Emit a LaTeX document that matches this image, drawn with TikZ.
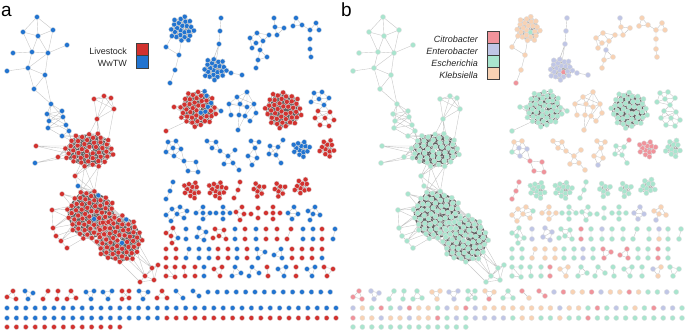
\documentclass[tikz,border=0pt]{standalone}
\usepackage{fontspec}
\setmainfont{Liberation Sans}
\pgfdeclarelayer{bg}
\pgfsetlayers{bg,main}
\definecolor{ca-r}{HTML}{D2322F}
\definecolor{ca-b}{HTML}{2274D0}
\definecolor{cb-c}{HTML}{F0939B}
\definecolor{cb-e}{HTML}{C0C6E6}
\definecolor{cb-s}{HTML}{A9E5CE}
\definecolor{cb-k}{HTML}{F8D2B4}
\tikzset{
  gnode/.style={circle,inner sep=0pt,minimum size=5.1pt,draw=black!12,line width=0.35pt},
  gedge/.style={draw=black!22,line width=0.4pt},
  denseedge/.style={draw=black!62,line width=0.3pt},
  midedge/.style={draw=black!35,line width=0.3pt},
  legbox/.style={draw=black!75,line width=0.7pt,minimum width=12pt,minimum height=12.1pt,inner sep=0pt},
  legtext/.style={font=\fontsize{9}{10}\selectfont,text=black!85,inner sep=0pt},
  plabel/.style={font=\fontsize{19}{19}\selectfont,inner sep=0pt,anchor=base west},
}
\newif\ifpanelb
\def\pfx{a}
\def\offx{0}
\def\asp{1}
\gdef\eall{}
\def\splitcode#1#2\relax{\def\codeA{#1}\def\codeB{#2}}
\newcommand\nd[4]{%
  \expandafter\splitcode#4\relax
  \ifpanelb\edef\thecol{cb-\codeB}\else\edef\thecol{ca-\codeA}\fi
  \pgfmathsetmacro\ndx{#2+\offx}\pgfmathsetmacro\ndy{#3}%
  \node[gnode,fill=\thecol] (\pfx-#1) at (\ndx,\ndy) {};}
\newcommand\ed[2]{\xdef\eall{\eall (\pfx-#1.center) -- (\pfx-#2.center)}}
\newcommand\E[1]{\foreach \ua/\ub in {#1}{\ed{\ua}{\ub}}}
\newcommand\pr[7]{\nd{#1a}{#2}{#3}{#6}\nd{#1b}{#4}{#5}{#7}\ed{#1a}{#1b}}
\newcommand\sun[9]{%
  \foreach \i in {1,...,#5}{%
    \pgfmathsetmacro\fr{\i*0.381966-floor(\i*0.381966)}%
    \pgfmathsetmacro\rr{#4*sqrt((\i-0.5)/#5)}%
    \pgfmathsetmacro\px{#2+\rr*cos(360*\fr)}%
    \pgfmathsetmacro\py{#3+\asp*\rr*sin(360*\fr)}%
    \pgfmathtruncatemacro\hh{mod(\i*61+17,100)}%
    \ifnum\hh<#9\relax\nd{#1-\i}{\px}{\py}{#8}\else\nd{#1-\i}{\px}{\py}{#7}\fi}%
  \gdef\spath{}%
  \foreach \i in {1,...,#5}{\foreach \k in {#6}{%
      \pgfmathtruncatemacro\jj{mod(\i+\k-1,#5)+1}%
      \xdef\spath{\spath (\pfx-#1-\i.center) -- (\pfx-#1-\jj.center)}}}%
  \begin{pgfonlayer}{bg}%
  \ifnum#5>30\relax\draw[denseedge] \spath;\else\draw[midedge] \spath;\fi
  \end{pgfonlayer}}
\newcommand\best[3]{%
  \pgfmathtruncatemacro\lo{max(1,#2-12)}%
  \gdef\bestd{1000}\gdef\besti{#2}%
  \foreach \ii in {\lo,...,#2}{%
    \pgfmathsetmacro\dd{abs(mod(360*(\ii*0.381966-floor(\ii*0.381966))-(#3)+540,360)-180)}%
    \ifdim\dd pt<\bestd pt\relax\xdef\bestd{\dd}\xdef\besti{\ii}\fi}}
\newcommand\lk[4]{\best{#2}{#3}{#4}\ed{#1}{#2-\besti}}
\newcommand\lkb[4]{\best{#2}{#3}{#4}\ed{#1}{#2-\besti}%
  \pgfmathtruncatemacro\bj{\besti-8}\ifnum\bj>0 \ed{#1}{#2-\bj}\fi
  \pgfmathtruncatemacro\bj{\besti-13}\ifnum\bj>0 \ed{#1}{#2-\bj}\fi}
\newcommand\cl[6]{\best{#1}{#2}{#3}\edef\ba{\besti}\best{#4}{#5}{#6}\edef\bb{\besti}\ed{#1-\ba}{#4-\bb}}
\newcommand\row[4]{\foreach \code [count=\kk] in {#4}{%
    \pgfmathsetmacro\rx{#2+9.4*(\kk-1)}\nd{#1-\kk}{\rx}{#3}{\code}}}

\newcommand\network{%
% ---------- left graph ----------
\nd{t1}{37}{17}{bs}\nd{t2}{23}{32}{bs}\nd{t3}{38}{36}{bs}\nd{t4}{53}{30}{bs}
\nd{t5}{67}{45}{bs}\nd{t6}{13}{53}{bs}\nd{t7}{32}{52}{bs}\nd{t8}{48}{53}{bs}
\nd{t9}{7}{71}{bs}\nd{t10}{28}{68}{bs}\nd{t11}{45}{75}{bs}\nd{t12}{34}{89}{bs}\nd{t13}{51}{104}{bs}
\E{t1/t2,t1/t3,t1/t4,t2/t3,t3/t4,t2/t7,t3/t8,t4/t8,t5/t8,t6/t7,t7/t8,t3/t7,t7/t10,t8/t10,t9/t10,t10/t11,t8/t11,t11/t12,t10/t12,t12/t13,t11/t13}
\nd{u1}{47}{114}{bs}\nd{u2}{62}{111}{bs}\nd{u3}{63}{117}{bs}\nd{u4}{49}{121}{bs}
\nd{u5}{48}{128}{bs}\nd{u6}{66}{125}{bs}\nd{u7}{69}{131}{bs}\nd{u8}{62}{136}{bs}
\E{t13/u1,t13/u2,t13/u3,t13/u4,u1/u2,u1/u3,u1/u4,u2/u3,u3/u4,u4/u5,u2/u6,u3/u6,u5/u6,u6/u7,u4/u7,u7/u8,u5/u8,u1/u6,u2/u4,u3/u5}
\nd{p1}{94}{99}{rs}\nd{p2}{104}{96}{rs}\nd{p3}{111}{98}{rs}\nd{p4}{114}{109}{rs}\nd{p5}{97}{119}{rs}
\E{p1/p2,p1/p3,p2/p3,p2/p4,p3/p4,p1/p5,p2/p5,p4/p5,p1/p4,p3/p5}
\def\asp{0.68}\sun{M}{89}{150}{26}{45}{1,2,3,5,8,13}{rs}{bs}{0}\def\asp{1}
\nd{mo1}{36}{146}{rs}\nd{mo2}{35}{163}{bs}\nd{mo3}{58}{157}{rs}\nd{mo4}{75}{176}{rs}\nd{mo5}{78}{186}{bs}
\lkb{mo1}{M}{45}{185}\ed{mo2}{mo3}\lk{mo2}{M}{45}{165}\lkb{mo3}{M}{45}{170}
\lkb{mo4}{M}{45}{100}\ed{mo4}{mo5}
\lkb{p5}{M}{45}{300}\lk{p4}{M}{45}{320}\lkb{u8}{M}{45}{230}\lk{u7}{M}{45}{215}\lk{u6}{M}{45}{220}
\sun{L1}{91}{215}{25}{62}{1,2,3,5,8,13,21}{rs}{bs}{3}
\sun{L2}{119}{239}{24}{58}{1,2,3,5,8,13,21}{rs}{bs}{3}
\foreach \q in {1,3,...,55}{\ed{L1-\q}{L2-\q}}
\lkb{mo5}{L1}{62}{270}\lk{mo4}{L1}{62}{265}
\cl{M}{45}{80}{L1}{62}{260}\cl{M}{45}{100}{L1}{62}{280}\cl{M}{45}{90}{L1}{62}{250}
\cl{M}{45}{110}{L1}{62}{290}\cl{M}{45}{70}{L1}{62}{275}
\nd{bo1}{62}{194}{rs}\nd{bo2}{52}{210}{rs}\nd{bo3}{53}{228}{rs}\nd{bo4}{56}{236}{rs}\nd{bo5}{61}{241}{rs}\nd{bo6}{67}{248}{rs}
\lkb{bo1}{L1}{62}{215}\lkb{bo2}{L1}{62}{185}\lkb{bo3}{L1}{62}{160}\lk{bo4}{L1}{62}{150}\lkb{bo5}{L1}{62}{140}\lk{bo6}{L1}{62}{120}
\E{bo3/bo4,bo4/bo5,bo5/bo6,bo2/bo3}
\nd{q1}{152}{268}{rs}\nd{q2}{158}{265}{rs}\nd{q3}{145}{276}{rs}\nd{q4}{154}{280}{rs}\nd{q5}{140}{282}{rs}
\E{q1/q2,q1/q3,q2/q4,q3/q4,q1/q4,q3/q5,q4/q5,q2/q3}
\lkb{q1}{L2}{58}{40}\lkb{q3}{L2}{58}{55}\lk{q5}{L2}{58}{75}
% ---------- right: top row ----------
\sun{C2}{182}{29}{13}{24}{1,2,3,5,8,13}{bk}{bs}{5}
\nd{c2a}{166}{47}{bk}\nd{c2b}{179}{55}{bk}\nd{c2c}{175}{70}{bk}\nd{c2d}{170}{83}{bc}
\lk{c2a}{C2}{24}{140}\ed{c2a}{c2b}\lk{c2b}{C2}{24}{95}\E{c2b/c2c,c2c/c2d}
\nd{c3a}{221}{18}{be}\nd{c3b}{220}{31}{be}\nd{c3c}{219}{44}{be}
\sun{C3}{215}{69}{12}{22}{1,2,3,5,8,13}{be}{bc}{5}
\nd{c3d}{231}{73}{be}\nd{c3e}{242}{75}{be}
\E{c3a/c3b,c3b/c3c,c3d/c3e}\lkb{c3c}{C3}{22}{275}\lk{c3d}{C3}{22}{0}
\nd{d1}{274}{18}{be}\nd{d2}{275}{27}{bk}\nd{d3}{284}{28}{bk}\nd{d4}{277}{35}{bk}
\nd{d5}{269}{35}{bk}\nd{d6}{257}{33}{bk}\nd{d7}{250}{38}{bk}\nd{d8}{256}{43}{bk}
\nd{d9}{263}{41}{bk}\nd{d10}{252}{48}{bk}\nd{d11}{260}{50}{be}\nd{d12}{267}{57}{bk}
\nd{d13}{258}{60}{bk}\nd{d14}{256}{68}{bk}
\E{d1/d2,d2/d3,d2/d4,d3/d4,d4/d5,d5/d9,d6/d7,d6/d9,d7/d8,d8/d9,d7/d10,d8/d10,d9/d11,d11/d12,d11/d13,d13/d14,d12/d13,d5/d6}
\nd{e1}{296}{18}{bk}\nd{e2}{293}{26}{bk}\nd{e3}{302}{25}{bk}\nd{e4}{316}{23}{bk}
\nd{e5}{310}{30}{bk}\nd{e6}{319}{30}{bk}\nd{e7}{310}{39}{bk}\nd{e8}{310}{49}{bk}\nd{e9}{311}{57}{bk}
\E{e1/e2,e1/e3,e2/e3,e3/e5,e4/e5,e4/e6,e5/e6,e5/e7,e7/e8,e8/e9}
% ---------- second row ----------
\sun{C6}{198}{109}{19}{44}{1,2,3,5,8,13}{rs}{bs}{12}
\nd{c6a}{174}{107}{rs}\nd{c6b}{221}{111}{bs}\nd{c6c}{166}{131}{rs}
\lkb{c6a}{C6}{44}{180}\lkb{c6b}{C6}{44}{0}\lk{c6c}{C6}{44}{140}
\nd{f1}{247}{92}{bk}\nd{f2}{237}{97}{bk}\nd{f3}{229}{104}{bk}\nd{f4}{240}{104}{bk}
\nd{f5}{247}{107}{bk}\nd{f6}{254}{104}{bk}\nd{f7}{231}{115}{bk}\nd{f8}{239}{115}{bk}
\nd{f9}{245}{116}{bk}\nd{f10}{250}{121}{bk}\nd{f11}{256}{113}{bk}\nd{f12}{238}{130}{bk}
\E{f1/f2,f1/f4,f1/f5,f1/f6,f2/f3,f2/f4,f3/f4,f3/f7,f4/f5,f5/f6,f4/f8,f5/f9,f6/f11,f7/f8,f8/f9,f9/f10,f10/f11,f6/f9,f8/f12,f9/f12,f3/f5,f2/f6}
\sun{C8}{283}{110}{19}{42}{1,2,3,4,5,8,13,21}{rs}{bs}{0}
\nd{g1}{314}{93}{bs}\nd{g2}{322}{92}{bs}\nd{g3}{329}{98}{bs}\nd{g4}{319}{99}{bs}\nd{g5}{311}{102}{bs}\nd{g6}{324}{105}{bs}
\nd{h1}{318}{111}{rs}\nd{h2}{330}{112}{rs}\nd{h3}{315}{118}{rs}\nd{h4}{325}{118}{rs}\nd{h5}{334}{120}{rs}\nd{h6}{320}{125}{rs}\nd{h7}{329}{126}{rs}
\E{g1/g2,g1/g4,g2/g3,g2/g4,g3/g4,g4/g5,g1/g5,g4/g6,g3/g6,g5/g6,g6/h1,g6/h2,h1/h2,h1/h3,h1/h4,h2/h4,h2/h5,h3/h4,h4/h5,h3/h6,h4/h6,h4/h7,h5/h7,h6/h7,h2/h3}
% ---------- third row ----------
\nd{i1}{168}{142}{bk}\nd{i2}{176}{141}{bk}\nd{i3}{173}{148}{be}\nd{i4}{166}{152}{bs}\nd{i5}{181}{149}{be}
\nd{i6}{174}{156}{be}\nd{i7}{184}{161}{bc}\nd{i8}{196}{162}{bc}\nd{i9}{188}{171}{bc}\nd{i10}{198}{172}{bc}
\E{i1/i2,i1/i3,i2/i3,i1/i4,i3/i4,i3/i5,i2/i5,i4/i6,i3/i6,i5/i6,i5/i7,i6/i7,i7/i8,i7/i9,i8/i10,i9/i10}
\nd{j1}{207}{141}{bk}\nd{j2}{216}{142}{bk}\nd{j3}{212}{148}{bk}\nd{j4}{220}{151}{bk}\nd{j5}{228}{156}{bk}
\nd{j6}{235}{150}{bk}\nd{j7}{224}{164}{bk}\nd{j8}{233}{163}{bk}\nd{j9}{239}{170}{bk}
\E{j1/j2,j1/j3,j2/j3,j3/j4,j2/j4,j4/j5,j5/j6,j5/j7,j5/j8,j7/j8,j8/j9}
\nd{k1}{251}{141}{bk}\nd{k2}{259}{142}{bk}\nd{k3}{255}{148}{bk}\nd{k4}{248}{156}{bk}\nd{k5}{257}{158}{bk}\nd{k6}{252}{165}{be}
\E{k1/k2,k1/k3,k2/k3,k3/k4,k3/k5,k4/k5,k4/k6,k5/k6}
\nd{l1}{283}{140}{bc}\nd{l2}{270}{146}{bs}\nd{l3}{278}{147}{bs}\nd{l4}{269}{154}{bs}\nd{l5}{276}{155}{bs}\nd{l6}{281}{163}{bs}
\E{l1/l3,l2/l3,l2/l4,l3/l5,l4/l5,l5/l6,l2/l5,l3/l4}
\sun{C14}{301}{149}{9}{13}{1,2,3,4,5,8}{bc}{bc}{0}
\sun{C15}{327}{148}{9}{11}{1,2,3,4,5,8}{rs}{rs}{0}
% ---------- row y 190 ----------
\nd{m1}{173}{182}{bc}\nd{m2}{170}{191}{bc}\nd{m3}{166}{199}{bc}\E{m1/m2,m2/m3}
\sun{C17}{192}{190}{9}{12}{1,2,3,4,5,8}{rs}{rs}{0}
\sun{C18}{217}{190}{9.5}{13}{1,2,3,4,5,8}{rs}{rs}{0}
\nd{n1}{240}{182}{rs}\nd{n2}{238}{190}{rs}\nd{n3}{234}{198}{rs}\E{n1/n2,n2/n3}
\sun{C20}{259}{190}{7.5}{7}{1,2,3}{rs}{rs}{0}
\sun{C21}{280}{190}{7.5}{7}{1,2,3}{rs}{rs}{0}
\sun{C22}{302}{187}{8.5}{10}{1,2,3,4,5}{rs}{rs}{0}
% ---------- row y 213 ----------
\nd{o1}{172}{209}{bk}\nd{o2}{180}{207}{bk}\nd{o3}{166}{215}{bk}\nd{o4}{177}{214}{bk}\nd{o5}{187}{211}{bs}\nd{o6}{184}{218}{bk}\nd{o7}{171}{221}{bk}
\E{o1/o2,o1/o3,o1/o4,o2/o4,o2/o5,o4/o5,o4/o6,o5/o6,o3/o7,o4/o7}
\nd{w1}{203}{207}{bk}\nd{w2}{196}{213}{bk}\nd{w3}{203}{213}{bk}\nd{w4}{210}{213}{bk}\nd{w5}{203}{219}{bk}
\E{w1/w3,w2/w3,w3/w4,w3/w5,w2/w1,w4/w5}
\nd{x1}{223}{207}{bs}\nd{x2}{216}{213}{bs}\nd{x3}{223}{213}{bs}\nd{x4}{230}{213}{bs}\nd{x5}{223}{219}{bs}
\E{x1/x3,x2/x3,x3/x4,x3/x5,x1/x4}
\nd{y1}{236}{212}{rs}\nd{y2}{242}{207}{rs}\nd{y3}{244}{214}{rs}\nd{y4}{251}{214}{rs}\nd{y5}{240}{220}{rs}
\E{y1/y2,y1/y3,y2/y3,y3/y4,y3/y5,y1/y5}
\pr{z}{258}{208}{258}{218}{rs}{rs}
\nd{aa1}{273}{207}{rs}\nd{aa2}{266}{213}{rs}\nd{aa3}{273}{213}{rs}\nd{aa4}{280}{213}{rs}\nd{aa5}{273}{219}{rs}
\E{aa1/aa3,aa2/aa3,aa3/aa4,aa3/aa5}
\nd{ab1}{288}{213}{be}\nd{ab2}{294}{207}{be}\nd{ab3}{298}{214}{be}\nd{ab4}{292}{219}{be}
\E{ab1/ab2,ab2/ab3,ab1/ab3,ab3/ab4,ab1/ab4}
\nd{ac1}{308}{211}{bk}\nd{ac2}{315}{207}{bk}\nd{ac3}{313}{214}{bk}\nd{ac4}{320}{215}{bk}\nd{ac5}{310}{220}{be}
\E{ac1/ac2,ac1/ac3,ac2/ac3,ac3/ac4,ac2/ac4,ac3/ac5}
% ---------- row y 229-240 ----------
\nd{ad1}{166}{233}{rs}\nd{ad2}{173}{228}{rs}\nd{ad3}{171}{236}{rs}\nd{ad4}{178}{238}{bs}\nd{ad5}{172}{243}{rs}
\E{ad1/ad2,ad1/ad3,ad2/ad3,ad3/ad4,ad3/ad5,ad4/ad5,ad2/ad4}
\pr{s1}{186}{229}{186}{239}{be}{be}
\nd{ae1}{199}{228}{be}\nd{ae2}{197}{237}{be}\nd{ae3}{204}{240}{be}\nd{ae4}{206}{232}{be}
\E{ae1/ae2,ae2/ae3,ae1/ae4,ae3/ae4,ae2/ae4}
\nd{af1}{215}{229}{rs}\nd{af2}{224}{230}{rs}\nd{af3}{219}{236}{rs}\nd{af4}{226}{239}{rs}\nd{af5}{213}{238}{rs}
\E{af1/af2,af1/af3,af2/af3,af3/af4,af2/af4,af3/af5}
\pr{s2}{235}{229}{235}{239}{bc}{bc}
\pr{s3}{245}{229}{245}{239}{rs}{rs}
\pr{s4}{256}{229}{256}{239}{be}{bs}
\pr{s5}{266}{229}{266}{239}{rs}{rs}
\pr{s6}{277}{229}{277}{239}{rs}{rs}
\pr{s7}{291}{229}{287}{239}{rs}{rs}
\pr{s8}{303}{229}{303}{239}{bs}{bs}
\pr{s9}{313}{229}{313}{239}{be}{bk}
\pr{s10}{322}{229}{322}{239}{rs}{rs}
\pr{s11}{335}{229}{333}{239}{bs}{bs}
% ---------- row y 249-258 ----------
\pr{v1}{166}{249}{166}{258}{rs}{rs}
\pr{v2}{176}{249}{176}{258}{rs}{rs}
\pr{v3}{189}{249}{186}{258}{bk}{bk}
\pr{v4}{199}{249}{199}{258}{bk}{bk}
\pr{v5}{209}{249}{209}{258}{bk}{bk}
\pr{v6}{218}{249}{218}{258}{rs}{rs}
\pr{v7}{228}{249}{228}{258}{rs}{rs}
\pr{v8}{237}{249}{237}{258}{be}{be}
\pr{v9}{247}{249}{247}{258}{rs}{rs}
\nd{v10a}{257}{249}{bc}\nd{v10b}{265}{252}{bc}\nd{v10c}{258}{258}{bc}\E{v10a/v10b,v10b/v10c,v10a/v10c}
\nd{v11a}{274}{255}{bc}\nd{v11b}{281}{249}{bc}\nd{v11c}{282}{258}{bc}\E{v11a/v11b,v11b/v11c,v11a/v11c}
\pr{v12}{292}{249}{292}{258}{rs}{rs}
\pr{v13}{302}{249}{302}{258}{rs}{rs}
\pr{v14}{312}{249}{312}{258}{rc}{rc}
\pr{v15}{322}{249}{322}{258}{rs}{bs}
% ---------- row y 267-276 ----------
\nd{r3a}{166}{267}{rs}\nd{r3b}{175}{267}{rs}\nd{r3c}{166}{276}{rs}\nd{r3d}{175}{277}{rs}
\E{r3a/r3b,r3a/r3c,r3b/r3d,r3c/r3d,r3a/r3d}
\pr{r3e}{184}{267}{185}{276}{rs}{rs}
\pr{r3f}{195}{267}{195}{276}{rs}{rs}
\pr{r3g}{204}{267}{204}{276}{bc}{bc}
\nd{r3h}{214}{269}{rk}\nd{r3i}{222}{267}{rk}\nd{r3j}{220}{276}{rk}\E{r3h/r3i,r3i/r3j,r3h/r3j}
\nd{r3k}{235}{267}{bs}\nd{r3l}{241}{273}{bs}\nd{r3m}{232}{276}{bs}\E{r3k/r3l,r3l/r3m,r3k/r3m}
\nd{r3n}{252}{267}{bs}\nd{r3o}{259}{273}{bs}\nd{r3p}{249}{276}{bs}\E{r3n/r3o,r3n/r3p}
\pr{r3q}{267}{267}{268}{276}{rs}{rs}
\nd{r3r}{278}{269}{bs}\nd{r3s}{286}{267}{bs}\nd{r3t}{284}{276}{bs}\E{r3r/r3s,r3s/r3t,r3r/r3t}
\pr{r3u}{296}{267}{296}{276}{rs}{rs}
\nd{r3v}{307}{269}{be}\nd{r3w}{315}{267}{bk}\nd{r3x}{312}{276}{bk}\E{r3v/r3w,r3w/r3x,r3v/r3x}
\nd{r3y}{324}{267}{rs}\nd{r3z}{333}{269}{rs}\nd{r3zz}{327}{276}{rs}\E{r3y/r3z,r3z/r3zz,r3y/r3zz}
% ---------- row y 291-299 ----------
\nd{r4a}{7}{297}{rc}\nd{r4b}{13}{291}{rc}\nd{r4c}{16}{299}{rc}\E{r4a/r4b,r4b/r4c,r4a/r4c}
\nd{r4d}{25}{291}{be}\nd{r4e}{33}{293}{be}\nd{r4f}{28}{299}{be}\E{r4d/r4e,r4e/r4f,r4d/r4f}
\pr{r4g}{48}{291}{43}{299}{rs}{rs}
\pr{r4h}{58}{291}{57}{299}{rs}{rs}
\nd{r4i}{71}{291}{rs}\nd{r4j}{67}{299}{rs}\nd{r4k}{76}{298}{rs}\E{r4i/r4j,r4i/r4k,r4j/r4k}
\nd{r4l}{86}{292}{bk}\nd{r4m}{94}{291}{bk}\nd{r4n}{91}{299}{bk}\E{r4l/r4m,r4m/r4n,r4l/r4n}
\nd{r4o}{103}{292}{be}\nd{r4p}{112}{291}{be}\nd{r4q}{108}{299}{be}\E{r4o/r4p,r4p/r4q,r4o/r4q}
\nd{r4r}{122}{291}{rs}\nd{r4s}{129}{291}{rs}\nd{r4t}{122}{299}{rs}\nd{r4u}{129}{298}{rs}\E{r4r/r4s,r4r/r4t,r4s/r4u,r4t/r4u,r4r/r4u,r4s/r4t}
\nd{r4v}{139}{291}{bk}\nd{r4w}{148}{292}{bk}\nd{r4x}{143}{299}{bc}\E{r4v/r4w,r4w/r4x,r4v/r4x}
\nd{r4y}{162}{291}{rs}\nd{r4z}{157}{298}{rs}\nd{r4zz}{167}{298}{rs}\E{r4y/r4z,r4y/r4zz,r4z/r4zz}
\pr{r4pa}{176}{291}{183}{298}{bc}{bk}
\pr{r4pb}{193}{291}{199}{296}{bc}{bc}
\row{r5}{208}{292}{be,bc,bk,bk,bc,be,bk,bk,bc,bk,bs,bs,be,bs}
\row{r6}{7}{308}{be,bk,bs,bc,bs,be,bc,bk,bk,bs,be,bk,bc,be,bk,bk,bk,bk,bk,bk,bk,bk,be,bk,bk,bs,bc,bs,be,bs,bk,bs,bc,be,be,bs}
\row{r7}{7}{318}{bc,bk,bk,be,bk,bk,be,bk,bk,bc,bs,be,bs,be,be,be,be,rs,rk,rk,rs,rs,rk,rs,rs,rc,rs,rs,rs,rs,rs,rs,rs,rs,rs,rs}
\row{r8}{7}{327}{rs,rs,rs,rs,rs,rs,rs,rs,rs,rs,rs,rs,rs}
\begin{pgfonlayer}{bg}\draw[gedge] \eall;\end{pgfonlayer}%
\gdef\eall{}%
}

\begin{document}
\begin{tikzpicture}[x=1pt,y=-1pt]
\useasboundingbox (0,0) rectangle (685,330);
\network
\panelbtrue\def\pfx{b}\def\offx{346}
\network
% labels
\node[plabel] (laba) at (1,16.5) {a};
\node[plabel] (labb) at (341,16.5) {b};
% legend a
\node[legbox,fill=ca-r] (lgA1) at (142,49.7) {};
\node[legbox,fill=ca-b] (lgA2) at (142,61.8) {};
\node[legtext,anchor=base east] (ltA1) at (127,54.8) {Livestock};
\node[legtext,anchor=base east] (ltA2) at (127,66.5) {WwTW};
% legend b
\node[legbox,fill=cb-c] (lgB1) at (493.3,37.1) {};
\node[legbox,fill=cb-e] (lgB2) at (493.3,49.2) {};
\node[legbox,fill=cb-s] (lgB3) at (493.3,61.3) {};
\node[legbox,fill=cb-k] (lgB4) at (493.3,73.4) {};
\node[legtext,anchor=base east,font=\fontsize{9}{10}\selectfont\itshape] (ltB1) at (478,42.3) {Citrobacter};
\node[legtext,anchor=base east,font=\fontsize{9}{10}\selectfont\itshape] (ltB2) at (478,54.3) {Enterobacter};
\node[legtext,anchor=base east,font=\fontsize{9}{10}\selectfont\itshape] (ltB3) at (478,66.1) {Escherichia};
\node[legtext,anchor=base east,font=\fontsize{9}{10}\selectfont\itshape] (ltB4) at (478,78.2) {Klebsiella};
\end{tikzpicture}
\end{document}
